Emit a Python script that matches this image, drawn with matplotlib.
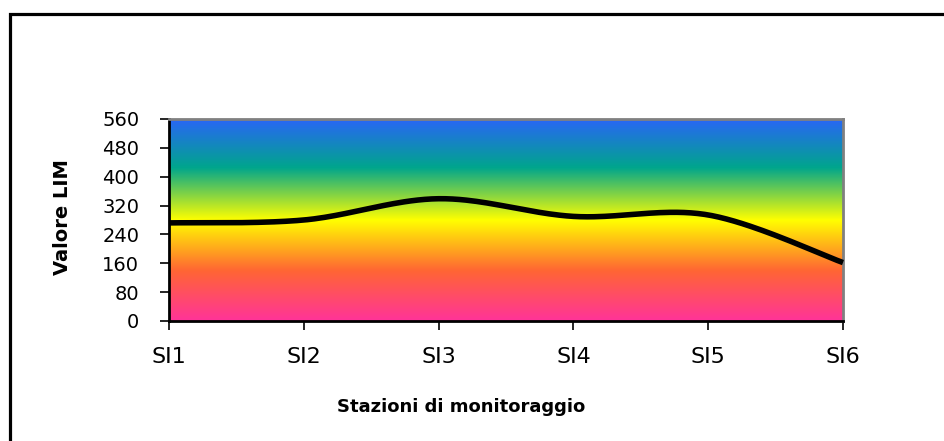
import numpy as np
import matplotlib
matplotlib.use("Agg")
import matplotlib.pyplot as plt
from matplotlib.colors import LinearSegmentedColormap
from matplotlib.lines import Line2D

stations = ["SI1", "SI2", "SI3", "SI4", "SI5", "SI6"]
lim_values = [272, 280, 339, 290, 294, 162]
y_ticks = [0, 80, 160, 240, 320, 400, 480, 560]

plt.rcParams['font.family'] = ['DejaVu Sans']

fig = plt.figure(figsize=(9.44, 4.41), dpi=100)
ax = fig.add_axes([169/944, 1-321/441, (843-169)/944, (321-119)/441])

# gradient background
cmap = LinearSegmentedColormap.from_list("lim", [
    (0.0, (1.0, 0.2, 0.6)),
    (0.25, (1.0, 0.4, 0.2)),
    (0.5, (1.0, 1.0, 0.0)),
    (0.76, (0.0, 0.65, 0.55)),
    (1.0, (0.16, 0.40, 0.96)),
])
grad = np.linspace(0, 1, 256).reshape(-1, 1)
ax.imshow(grad, extent=[0, len(stations)-1, 0, 560], origin="lower",
          aspect="auto", cmap=cmap, zorder=0)

# smoothed line (spreadsheet-style Bezier smoothing)
x = np.arange(len(stations), dtype=float)
y = np.array(lim_values, dtype=float)
px = np.concatenate([[x[0]], x, [x[-1]]])
py = np.concatenate([[y[0]], y, [y[-1]]])
xs, ys = [], []
t = np.linspace(0, 1, 40)
for i in range(1, len(px) - 2):
    p0, p1, p2, p3 = [np.array([px[j], py[j]]) for j in (i-1, i, i+1, i+2)]
    c1 = p1 + (p2 - p0) / 6
    c2 = p2 - (p3 - p1) / 6
    pts = ((1-t)**3)[:, None]*p1 + (3*(1-t)**2*t)[:, None]*c1 + (3*(1-t)*t**2)[:, None]*c2 + (t**3)[:, None]*p2
    xs.extend(pts[:, 0]); ys.extend(pts[:, 1])
ax.plot(xs, ys, color="black", lw=4, solid_capstyle="butt", zorder=3, clip_on=False)

ax.set_xlim(0, len(stations)-1)
ax.set_ylim(0, 560)
ax.set_xticks(x)
ax.set_xticklabels(stations, fontsize=16)
ax.set_yticks(y_ticks)
ax.set_yticklabels([str(v) for v in y_ticks], fontsize=14)
ax.tick_params(axis="both", direction="out", length=6.5, width=1.2, color="black")
ax.tick_params(axis="x", pad=12)
ax.tick_params(axis="y", pad=15)

for side in ("left", "bottom"):
    ax.spines[side].set_color("black")
    ax.spines[side].set_linewidth(2)
for side in ("top", "right"):
    ax.spines[side].set_color("#808080")
    ax.spines[side].set_linewidth(2)

fig.text(63/944, 1-217/441, "Valore LIM", rotation=90, fontsize=14,
         fontweight="bold", ha="center", va="center")
fig.text(461/944, 1-407/441, "Stazioni di monitoraggio", fontsize=13,
         fontweight="bold", ha="center", va="center")

# chart frame
fx = 9.5/944
fy = 1 - 13.5/441
fig.add_artist(Line2D([fx, fx, 1.0], [0.0, fy, fy], transform=fig.transFigure,
                      color="black", lw=2.3, solid_joinstyle="miter"))

fig.savefig("out.png", dpi=100)
